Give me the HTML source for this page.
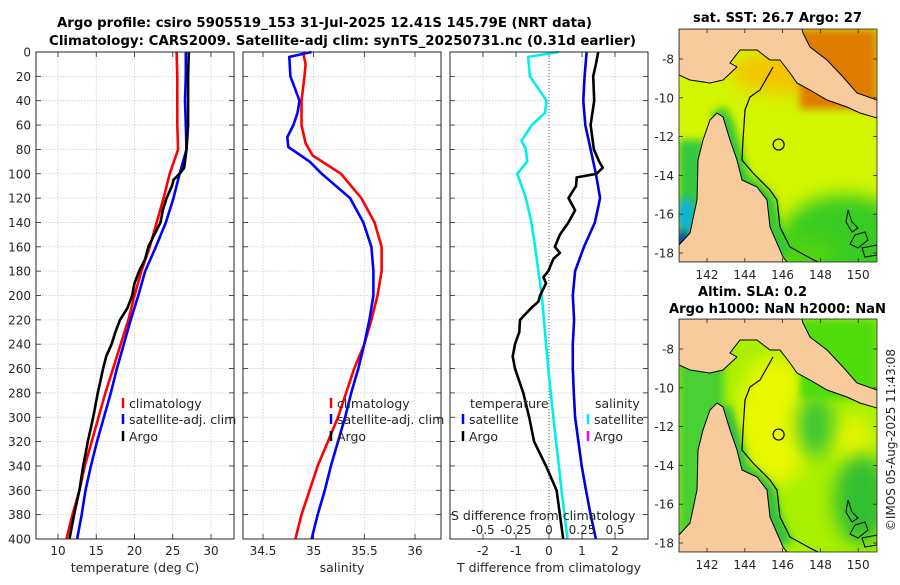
<!DOCTYPE html>
<html><head><meta charset="utf-8"><style>
html,body{margin:0;padding:0;background:#fff;}
svg text{font-family:"DejaVu Sans","Liberation Sans",sans-serif;fill:#262626;}
</style></head><body>
<svg id="fig" width="900" height="580" viewBox="0 0 900 580" xmlns="http://www.w3.org/2000/svg">
<defs>
<filter id="blur" x="-50%" y="-50%" width="200%" height="200%"><feGaussianBlur stdDeviation="9"/></filter>
<filter id="blur2" x="-50%" y="-50%" width="200%" height="200%"><feGaussianBlur stdDeviation="4"/></filter>
<clipPath id="clipTop"><rect x="679" y="29" width="198" height="233"/></clipPath>
<clipPath id="clipBot"><rect x="679" y="319" width="198" height="233"/></clipPath>
</defs>
<text x="57" y="27" font-size="13" font-weight="bold" textLength="535" lengthAdjust="spacingAndGlyphs" style="fill:#000">Argo profile: csiro 5905519_153 31-Jul-2025 12.41S 145.79E (NRT data)</text>
<text x="49" y="45" font-size="13" font-weight="bold" textLength="587" lengthAdjust="spacingAndGlyphs" style="fill:#000">Climatology: CARS2009. Satellite-adj clim: synTS_20250731.nc (0.31d earlier)</text>
<g id="plots"></g>
<g id="maps"></g>
<text transform="translate(895,440) rotate(-90)" text-anchor="middle" font-size="12">©IMOS 05-Aug-2025 11:43:08</text>
</svg>
<script>
// ---- data ----
const depthTicks = [0,20,40,60,80,100,120,140,160,180,200,220,240,260,280,300,320,340,360,380,400];
const tTicks = [10,15,20,25,30];
const sTicks = [34.5,35,35.5,36];
const dTicks = [-2,-1,0,1,2];
const dsTickLabels = ["-0.5","-0.25","0","0.25","0.5"];
const dsTicks = [-0.5,-0.25,0,0.25,0.5];

const climDepths = [0,20,40,60,80,100,120,140,160,180,200,220,240,260,280,300,320,340,360,380,400];
const tClim = [25.5,25.6,25.6,25.6,25.7,24.6,23.8,22.9,22.0,20.9,20.0,19.2,18.2,17.2,16.2,15.3,14.4,13.5,12.8,11.9,11.1];
const tSat = [26.7,26.7,26.6,26.7,26.8,25.9,25.1,24.1,22.8,21.4,20.5,19.5,18.6,17.7,16.9,16.0,15.1,14.3,13.6,13.1,12.5];
const argoDepths = [0,20,40,60,80,95,100,105,110,120,130,140,150,160,170,180,190,200,210,220,230,240,250,260,280,300,320,340,360,380,400];
const tArgo = [27.1,27.0,27.0,27.0,26.8,26.5,25.9,25.1,24.9,24.2,23.7,23.4,22.6,21.8,21.4,20.6,20.0,19.7,19.1,18.1,17.5,17.0,16.3,15.9,15.2,14.6,13.9,13.3,12.8,12.1,11.5];

const sClimDepths = [2,10,20,40,60,75,85,100,120,140,160,180,200,220,240,260,280,300,320,340,360,380,400];
const sClim = [34.9,34.92,34.91,34.88,34.88,34.92,34.99,35.27,35.47,35.6,35.67,35.67,35.63,35.57,35.5,35.4,35.32,35.24,35.14,35.04,34.96,34.88,34.82];
const sSatDepths = [0,4,20,40,50,60,70,78,90,100,120,140,160,180,200,220,240,260,280,300,320,340,360,380,400];
const sSat = [34.98,34.76,34.77,34.86,34.84,34.8,34.74,34.75,34.96,35.08,35.36,35.49,35.57,35.59,35.59,35.55,35.5,35.44,35.37,35.31,35.24,35.17,35.11,35.04,34.98];

const dTSatDepths = [0,20,40,60,80,100,120,140,160,180,200,220,240,260,280,300,320,340,360,380,400];
const dTSat = [1.14,1.08,1.04,1.1,1.26,1.42,1.55,1.39,1.06,0.79,0.72,0.76,0.72,0.72,0.75,0.79,0.89,0.99,1.12,1.26,1.42];
const dTArgoDepths = [0,10,20,40,60,80,90,95,100,103,110,120,130,140,150,160,165,170,180,185,190,200,205,210,220,230,240,250,260,280,300,320,340,360,380,400];
const dTArgo = [1.49,1.42,1.34,1.37,1.26,1.36,1.52,1.63,1.44,0.84,0.82,0.59,0.79,0.59,0.33,0.18,0.33,0.13,-0.02,-0.17,-0.09,-0.27,-0.32,-0.53,-0.88,-0.9,-1.03,-1.1,-1.03,-0.78,-0.6,-0.45,-0.09,0.23,0.33,0.43];
const dSSatDepths = [0,4,20,40,50,60,73,80,90,100,120,140,160,180,200,220,240,260,280,300,320,340,360,380,400];
const dSSat = [0.075,-0.158,-0.145,-0.018,-0.03,-0.13,-0.208,-0.175,-0.165,-0.24,-0.175,-0.133,-0.105,-0.08,-0.055,-0.038,-0.023,-0.005,0.013,0.033,0.053,0.075,0.095,0.118,0.14];

const latTicks = [-8,-10,-12,-14,-16,-18];
const lonTicks = [142,144,146,148,150];
const argoLon = 145.79, argoLat = -12.41;

// ---- helpers ----
const NS = "http://www.w3.org/2000/svg";
const plots = document.getElementById('plots');
const maps = document.getElementById('maps');
function mk(tag, attrs, parent){ const e=document.createElementNS(NS,tag); for(const k in attrs) e.setAttribute(k,attrs[k]); (parent||plots).appendChild(e); return e; }
const PY0=52, PY1=539;
const yD = d => PY0 + d*(PY1-PY0)/400;
const xT = t => 58 + (t-10)*7.65;
const xS = s => 263 + (s-34.5)*101.33;
const xDT = v => 549 + v*33;
const xDS = v => 549 + v*132;

function panel(x0, x1, xf, ticks, labels, name, xlabel){
  const g = mk('g',{});
  
  
  mk('rect',{x:x0,y:PY0,width:x1-x0,height:PY1-PY0,fill:'#fff'},g);
  depthTicks.forEach(d=>{
    mk('line',{x1:x0,x2:x1,y1:yD(d),y2:yD(d),stroke:'#c9cbe3','stroke-width':0.8,'stroke-dasharray':'1.5,1.5'},g);
    mk('line',{x1:x0,x2:x0+5,y1:yD(d),y2:yD(d),stroke:'#262626','stroke-width':0.8},g);
    mk('line',{x1:x1-5,x2:x1,y1:yD(d),y2:yD(d),stroke:'#262626','stroke-width':0.8},g);
  });
  ticks.forEach((t,i)=>{
    const x=xf(t);
    mk('line',{x1:x,x2:x,y1:PY0,y2:PY1,stroke:'#c9cbe3','stroke-width':0.8,'stroke-dasharray':'1.5,1.5'},g);
    mk('line',{x1:x,x2:x,y1:PY1-5,y2:PY1,stroke:'#262626','stroke-width':0.8},g);
    mk('line',{x1:x,x2:x,y1:PY0,y2:PY0+5,stroke:'#262626','stroke-width':0.8},g);
    const tx=mk('text',{x:x,y:555,'text-anchor':'middle','font-size':12},g);
    
    
    tx.textContent=labels[i];
  });
  const xl=mk('text',{x:(x0+x1)/2,y:572,'text-anchor':'middle','font-size':12.5},g);
  
  
  xl.textContent=xlabel;
  return g;
}
function frame(g,x0,x1){ mk('rect',{x:x0,y:PY0,width:x1-x0,height:PY1-PY0,fill:'none',stroke:'#262626','stroke-width':1},g); }
function series(g, xs, ds, xf, color, name, w){
  const pts = xs.map((v,i)=>xf(v).toFixed(1)+','+yD(ds[i]).toFixed(1)).join(' ');
  const p = mk('polyline',{points:pts,fill:'none',stroke:color,'stroke-width':w||2.6,'stroke-linejoin':'round'},g);
  
  
}
function legendRow(g, x, y, color, label, name){
  const m = mk('line',{x1:x,x2:x,y1:y-10,y2:y,stroke:color,'stroke-width':2.5},g);
  
  
  const t = mk('text',{x:x+6,y:y,'font-size':12.5},g);
  
  
  t.textContent = label;
}

// Panel 1: temperature
const g1 = panel(36,234,xT,tTicks,tTicks.map(String),'temperature-panel','temperature (deg C)');
depthTicks.forEach(d=>{
  const t=mk('text',{x:31,y:yD(d)+4.5,'text-anchor':'end','font-size':12},g1);
  
  
  t.textContent=d;
});
series(g1,tClim,climDepths,xT,'#ff0000','temperature-climatology-line');
series(g1,tSat,climDepths,xT,'#0000ff','temperature-satellite-line');
series(g1,tArgo,argoDepths,xT,'#000000','temperature-argo-line');
legendRow(g1,123,408,'#ff0000','climatology','temp-legend-climatology');
legendRow(g1,123,424,'#0000ff','satellite-adj. clim','temp-legend-satellite');
legendRow(g1,123,441,'#000000','Argo','temp-legend-argo');
frame(g1,36,234);

// Panel 2: salinity
const g2 = panel(243,441,xS,sTicks,['34.5','35','35.5','36'],'salinity-panel','salinity');
series(g2,sClim,sClimDepths,xS,'#ff0000','salinity-climatology-line');
series(g2,sSat,sSatDepths,xS,'#0000ff','salinity-satellite-line');
legendRow(g2,331,408,'#ff0000','climatology','sal-legend-climatology');
legendRow(g2,331,424,'#0000ff','satellite-adj. clim','sal-legend-satellite');
legendRow(g2,331,441,'#000000','Argo','sal-legend-argo');
frame(g2,243,441);

// Panel 3: differences
const g3 = panel(450,648,xDT,dTicks,dTicks.map(String),'difference-panel','T difference from climatology');
mk('line',{x1:xDT(0),x2:xDT(0),y1:PY0,y2:PY1,stroke:'#555','stroke-width':1,'stroke-dasharray':'1,2'},g3);
series(g3,dSSat,dSSatDepths,xDS,'#00eeee','salinity-diff-satellite-line');
series(g3,dTSat,dTSatDepths,xDT,'#0000dd','temperature-diff-satellite-line');
series(g3,dTArgo,dTArgoDepths,xDT,'#000000','temperature-diff-argo-line');
let lt=mk('text',{x:470,y:408,'font-size':12.5},g3);


lt.textContent='temperature';
legendRow(g3,463,424,'#0000ff','satellite','diff-legend-temp-satellite');
legendRow(g3,463,441,'#000000','Argo','diff-legend-temp-argo');
let ls=mk('text',{x:595,y:408,'font-size':12.5},g3);


ls.textContent='salinity';
legendRow(g3,588,424,'#00eeee','satellite','diff-legend-sal-satellite');
legendRow(g3,588,441,'#ff00ff','Argo','diff-legend-sal-argo');
let st=mk('text',{x:451,y:520,'font-size':12.5},g3);


st.textContent='S difference from climatology';
dsTicks.forEach((v,i)=>{
  const t=mk('text',{x:xDS(v),y:534,'text-anchor':'middle','font-size':12},g3);
  
  
  t.textContent=dsTickLabels[i];
});
frame(g3,450,648);

// ---- maps ----
const xLon = lon => 707 + (lon-142)*18.9;
const landCape = "679,245 690,233 697,200 698,160 703,140 710,120 717,113 723,117 730,140 737,160 742,180 757,187 767,200 770,227 783,257 787,262 679,262";
const landPNG = "679,29 802,29 803,33 810,47 827,60 843,77 857,93 877,100 877,118 860,113 847,107 827,100 810,90 797,83 790,73 780,60 770,60 757,50 740,50 730,63 737,67 723,80 710,83 690,80 679,75";
const isobath = "773,67 760,90 750,97 745,110 743,140 742,160 753,173 770,190 777,200 780,227 790,247 810,258 818,262";
const islands = ["848,210 852,222 858,228 852,232 846,222","855,235 865,232 868,240 858,248 850,244","862,248 877,245 877,255 865,257"];

function drawMap(dy, yTop, name, isSST){
  const g = mk('g',{},maps);
  
  
  const c = mk('g',{'clip-path': isSST?'url(#clipTop)':'url(#clipBot)'},g);
  if(isSST){
    mk('rect',{x:679,y:29,width:198,height:233,fill:'#d2f500'},c);
    mk('ellipse',{cx:790,cy:72,rx:60,ry:22,fill:'#f4c400',filter:'url(#blur)'},c);
    mk('rect',{x:800,y:29,width:77,height:80,fill:'#de7c00',filter:'url(#blur2)'},c);
    mk('ellipse',{cx:845,cy:240,rx:65,ry:45,fill:'#38cc20',filter:'url(#blur)'},c);
    mk('ellipse',{cx:800,cy:255,rx:35,ry:18,fill:'#50d410',filter:'url(#blur)'},c);
    mk('rect',{x:679,y:140,width:24,height:122,fill:'#30c840',filter:'url(#blur2)'},c);
    mk('ellipse',{cx:686,cy:215,rx:8,ry:18,fill:'#10b0e0',filter:'url(#blur2)'},c);
    mk('ellipse',{cx:682,cy:245,rx:7,ry:15,fill:'#0040c0',filter:'url(#blur2)'},c);
    mk('polyline',{points:"718,110 726,125 732,145 742,180 757,190 768,202 773,227 785,255",fill:'none',stroke:'#30c830','stroke-width':16,filter:'url(#blur2)'},c);
  } else {
    mk('rect',{x:679,y:319,width:198,height:233,fill:'#a8f000'},c);
    mk('ellipse',{cx:775,cy:420,rx:38,ry:65,fill:'#eaf800',filter:'url(#blur)'},c);
    mk('ellipse',{cx:852,cy:440,rx:22,ry:25,fill:'#e0f400',filter:'url(#blur)'},c);
    mk('ellipse',{cx:815,cy:425,rx:18,ry:32,fill:'#40c830',filter:'url(#blur)'},c);
    mk('ellipse',{cx:862,cy:500,rx:28,ry:45,fill:'#30c030',filter:'url(#blur)'},c);
    mk('rect',{x:800,y:319,width:77,height:80,fill:'#50dc10',filter:'url(#blur2)'},c);
    mk('rect',{x:679,y:360,width:45,height:192,fill:'#48d030',filter:'url(#blur2)'},c);
    mk('polyline',{points:"723,407 732,435 742,470 757,480 768,492 773,517 785,545",fill:'none',stroke:'#30c040','stroke-width':16,filter:'url(#blur2)'},c);
  }
  const lg = mk('g',{transform:'translate(0,'+dy+')'},c);
  const cape = mk('polygon',{points:landCape,fill:'#f8cb9c',stroke:'#000','stroke-width':1},lg);
  
  
  const png = mk('polygon',{points:landPNG,fill:'#f8cb9c',stroke:'#000','stroke-width':1},lg);
  
  
  const iso = mk('polyline',{points:isobath,fill:'none',stroke:'#000','stroke-width':1.2},lg);
  
  
  islands.forEach(p=>mk('polygon',{points:p,fill:'none',stroke:'#000','stroke-width':1},lg));
  const yLat = lat => 59 + (-8-lat)*19.4 + dy;
  const circ = mk('circle',{cx:xLon(argoLon),cy:yLat(argoLat),r:5.5,fill:'none',stroke:'#000','stroke-width':1.2},g);
  
  
  mk('rect',{x:679,y:yTop,width:198,height:233,fill:'none',stroke:'#262626','stroke-width':0.8},g);
  latTicks.forEach(l=>{
    const y=yLat(l);
    mk('line',{x1:679,x2:683,y1:y,y2:y,stroke:'#262626','stroke-width':0.8},g);
    mk('line',{x1:873,x2:877,y1:y,y2:y,stroke:'#262626','stroke-width':0.8},g);
    const t=mk('text',{x:674,y:y+4.5,'text-anchor':'end','font-size':12},g);
    
    
    t.textContent=l;
  });
  lonTicks.forEach(l=>{
    const x=xLon(l);
    mk('line',{x1:x,x2:x,y1:yTop+229,y2:yTop+233,stroke:'#262626','stroke-width':0.8},g);
    mk('line',{x1:x,x2:x,y1:yTop,y2:yTop+4,stroke:'#262626','stroke-width':0.8},g);
    const t=mk('text',{x:x,y:yTop+250,'text-anchor':'middle','font-size':12},g);
    
    
    t.textContent=l;
  });
  return g;
}
drawMap(0,29,'sst-map',true);
drawMap(290,319,'sla-map',false);

function mapTitle(x,y,len,txt,name){
  const t=mk('text',{x:x,y:y,'font-size':13,'font-weight':'bold',textLength:len,lengthAdjust:'spacingAndGlyphs',style:'fill:#000'},maps);
  
  
  t.textContent=txt;
}
mapTitle(693,22,169,'sat. SST: 26.7 Argo: 27','sst-map-title');
mapTitle(698,296,109,'Altim. SLA: 0.2','sla-map-title');
mapTitle(669,313,217,'Argo h1000: NaN h2000: NaN','argo-height-title');
</script>
</body></html>
